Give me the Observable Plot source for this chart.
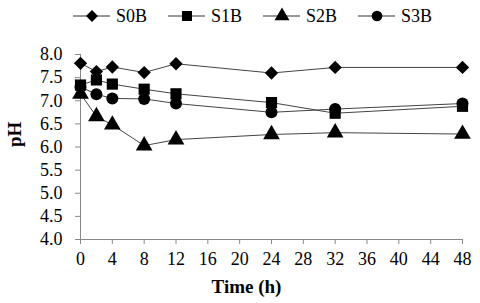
<!DOCTYPE html>
<html><head><meta charset="utf-8">
<script src="https://cdn.jsdelivr.net/npm/d3@7"></script>
<script src="https://cdn.jsdelivr.net/npm/@observablehq/plot@0.6"></script>
<style>
body{margin:0;background:#fff;}
#wrap{position:relative;width:480px;height:303px;font-family:'Liberation Serif','Times New Roman',serif;}
#legend{position:absolute;top:3px;left:0;width:480px;height:26px;}
svg text{font-family:'Liberation Serif','Times New Roman',serif !important;}
</style></head>
<body><div id="wrap"><div id="legend"></div></div>
<script>
const times = [0, 2, 4, 8, 12, 24, 32, 48];
const seriesNames = ["S0B", "S1B", "S2B", "S3B"];
const S0B = [7.81, 7.63, 7.73, 7.61, 7.80, 7.60, 7.72, 7.72];
const S1B = [7.34, 7.45, 7.36, 7.25, 7.15, 6.96, 6.73, 6.88];
const S2B = [7.15, 6.66, 6.48, 6.03, 6.16, 6.27, 6.31, 6.28];
const S3B = [7.30, 7.14, 7.05, 7.04, 6.94, 6.75, 6.82, 6.94];
const symbols = ["diamond2", "square", "triangle", "circle"];
const xTicks = [0, 4, 8, 12, 16, 20, 24, 28, 32, 36, 40, 44, 48];
const yTicks = [4.0, 4.5, 5.0, 5.5, 6.0, 6.5, 7.0, 7.5, 8.0];

const valuesBySeries = [S0B, S1B, S2B, S3B];
const data = [];
seriesNames.forEach((s, i) => times.forEach((t, j) => data.push({series: s, t, ph: valuesBySeries[i][j]})));
const rBy = {S0B: 6, S1B: 6.3, S2B: 6.2, S3B: 6};
const serif = "'Liberation Serif','Times New Roman',serif";

const plot = Plot.plot({
  width: 480, height: 303,
  marginLeft: 80, marginRight: 18, marginTop: 54, marginBottom: 64,
  style: {fontFamily: serif, fontSize: "18px", color: "#000", background: "#fff"},
  x: {domain: [0, 48], label: null},
  y: {domain: [4, 8], label: null},
  r: {type: "identity"},
  symbol: {domain: seriesNames, range: symbols},
  marks: [
    Plot.ruleX([0], {stroke: "#888"}),
    Plot.ruleY([4], {stroke: "#888"}),
    Plot.axisX({ticks: xTicks, tickSize: 5, tickPadding: 8, stroke: "#888", fill: "#000", fontSize: 18, fontFamily: serif, label: null}),
    Plot.axisY({ticks: yTicks, tickFormat: d3.format(".1f"), tickSize: 5, tickPadding: 13, stroke: "#888", fill: "#000", fontSize: 18, fontFamily: serif, label: null}),
    Plot.line(data, {x: "t", y: "ph", z: "series", stroke: "#444", strokeWidth: 1}),
    Plot.dot(data, {x: "t", y: "ph", symbol: "series", fill: "#000", stroke: "none", r: d => rBy[d.series]}),
    Plot.text(["Time (h)"], {frameAnchor: "bottom", dx: -25, dy: 53, fontWeight: "bold", fontSize: 19, fontFamily: serif, fill: "#000"}),
    Plot.text(["pH"], {frameAnchor: "left", dx: -66, rotate: -90, fontWeight: "bold", fontSize: 19, fontFamily: serif, fill: "#000"})
  ]
});
plot.style.position = "absolute";
plot.style.top = "0";
plot.style.left = "0";
document.getElementById("wrap").insertBefore(plot, document.getElementById("legend"));

// Legend
const legendX = [73, 168, 263, 358];
const lsvg = d3.select("#legend").append("svg").attr("width", 480).attr("height", 26);
const symMap = {diamond2: d3.symbolDiamond2, square: d3.symbolSquare, triangle: d3.symbolTriangle, circle: d3.symbolCircle};
seriesNames.forEach((s, i) => {
  const g = lsvg.append("g").attr("transform", `translate(${legendX[i]},13)`);
  g.append("line").attr("x1", 0).attr("x2", 37).attr("y1", 0).attr("y2", 0).attr("stroke", "#333");
  g.append("path").attr("transform", "translate(19,0)")
    .attr("d", d3.symbol(symMap[symbols[i]], Math.PI * rBy[s] * rBy[s] * 0.8)());
  g.append("text").attr("x", 43).attr("y", 6).attr("font-size", 18).attr("font-family", serif).text(s);
});
</script></body></html>
